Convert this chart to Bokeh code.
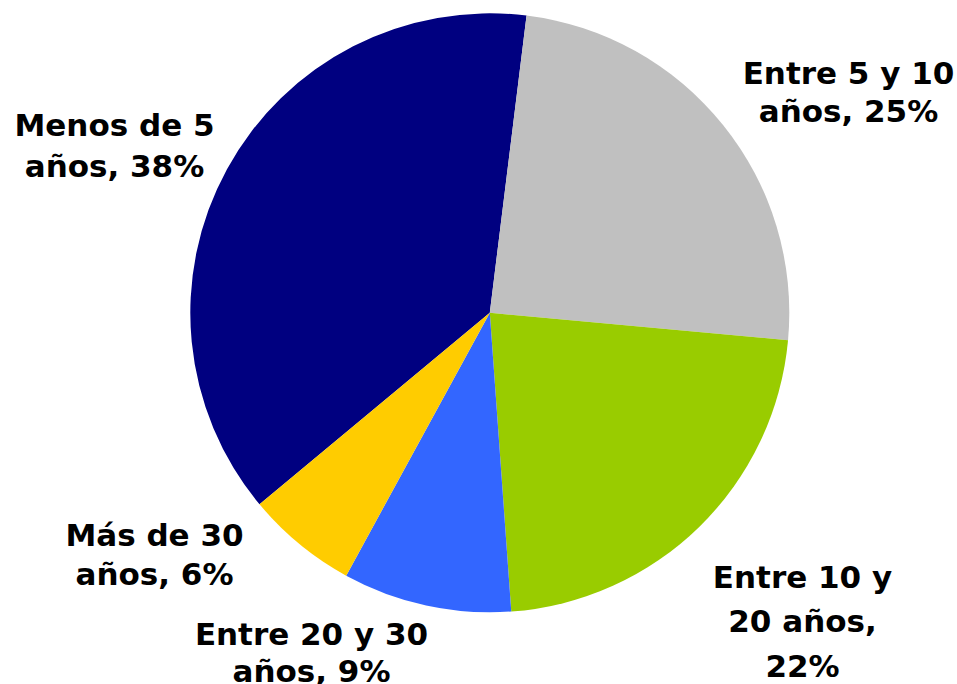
from math import radians
from bokeh.plotting import figure
from bokeh.models import Range1d, ColumnDataSource
from bokeh.core.properties import value
from bokeh.embed import file_html
from bokeh.resources import INLINE

# ---- data ----
categories = ["Menos de 5 años", "Entre 5 y 10 años", "Entre 10 y 20 años",
              "Entre 20 y 30 años", "Más de 30 años"]
shares = [38.0, 24.5, 22.4, 9.1, 6.0]
colors = ["#000080", "#C0C0C0", "#99CC00", "#3366FF", "#FFCC00"]
label_lines = [
    ["Menos de 5", "años, 38%"],
    ["Entre 5 y 10", "años, 25%"],
    ["Entre 10 y", "20 años,", "22%"],
    ["Entre 20 y 30", "años, 9%"],
    ["Más de 30", "años, 6%"],
]

# ---- layout (screen pixels of the reference) ----
W, H = 957, 684
CX, CY, R = 489.3, 312.3, 299.5
FIRST_ANGLE = 230.25   # clockwise from 12 o'clock where first slice starts
label_x = [114, 848, 802, 311, 154]
label_baselines = [[124, 165], [72, 110], [576, 620, 665], [633, 670], [534, 573]]


def dx(sx):
    return sx


def dy(sy):
    return H - sy


p = figure(width=W, height=H, output_backend="svg", toolbar_location=None,
           x_range=Range1d(0, W), y_range=Range1d(0, H), min_border=0)
p.axis.visible = False
p.grid.visible = False
p.outline_line_color = None
p.background_fill_color = "white"
p.border_fill_color = "white"

total = sum(shares)
starts, ends = [], []
acc = FIRST_ANGLE
for s in shares:
    a0 = acc
    a1 = acc + s / total * 360.0
    starts.append(radians(90 - a0))
    ends.append(radians(90 - a1))
    acc = a1

src = ColumnDataSource(dict(x=[dx(CX)] * len(shares), y=[dy(CY)] * len(shares),
                            start=starts, end=ends, color=colors, cat=categories))
p.wedge(x="x", y="y", radius=R, start_angle="start", end_angle="end",
        direction="clock", fill_color="color", line_color=None, source=src)

tx, ty, tt = [], [], []
for lines, x, bls in zip(label_lines, label_x, label_baselines):
    for line, b in zip(lines, bls):
        tx.append(dx(x))
        ty.append(dy(b))
        tt.append(line)

p.text(x=tx, y=ty, text=tt, text_font=value("DejaVu Sans"), text_font_style="bold",
       text_font_size="31px", text_color="#000000", text_align="center",
       text_baseline="alphabetic")

open("out.html", "w").write(file_html(p, INLINE))
